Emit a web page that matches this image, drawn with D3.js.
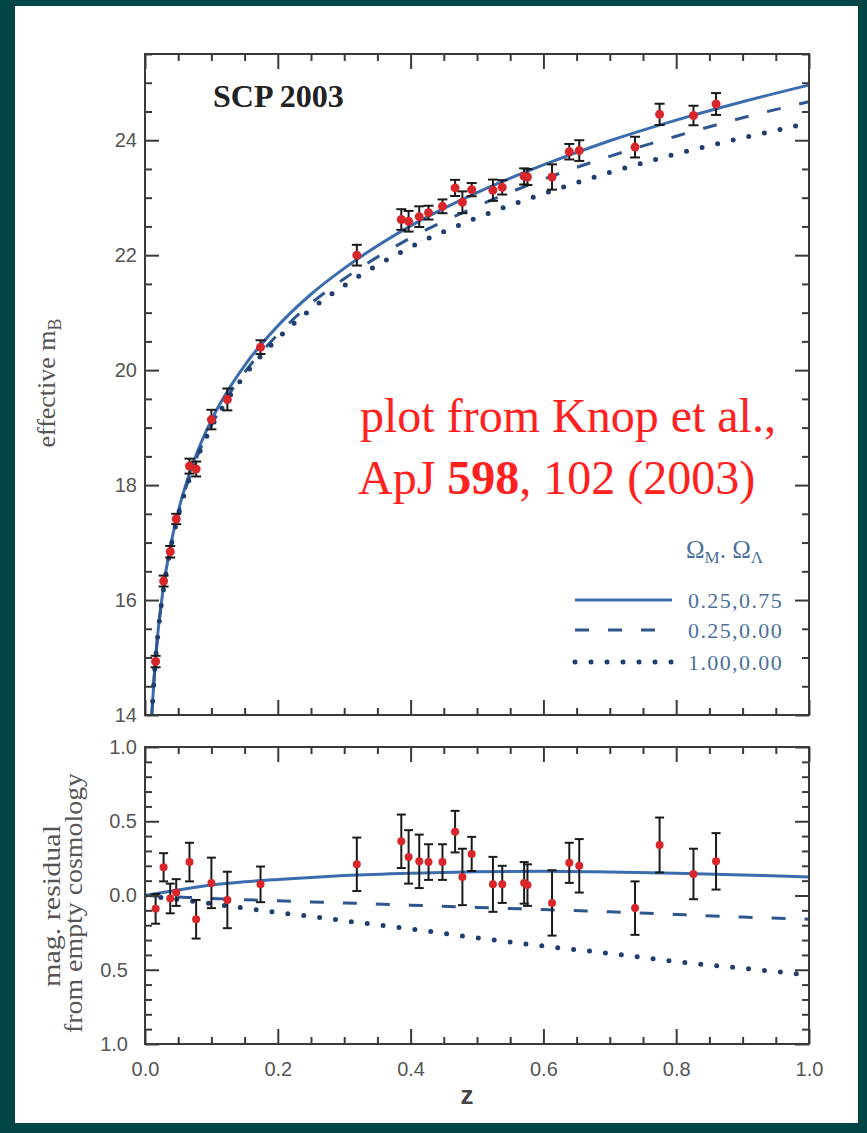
<!DOCTYPE html>
<html>
<head>
<meta charset="utf-8">
<script src="https://cdn.jsdelivr.net/npm/d3@7"></script>
<style>
  body { margin: 0; background: #004646; }
  svg { display: block; }
</style>
</head>
<body>
<svg id="chart" width="867" height="1133"></svg>
<script>
// --- data ---
const sneZ     = [0.016, 0.028, 0.038, 0.047, 0.067, 0.077, 0.100, 0.124, 0.174, 0.319,
                  0.386, 0.397, 0.413, 0.427, 0.448, 0.467, 0.478, 0.492, 0.524, 0.538,
                  0.571, 0.576, 0.613, 0.639, 0.654, 0.738, 0.775, 0.826, 0.860];
const sneMag   = [14.93, 16.33, 16.84, 17.41, 18.33, 18.28, 19.14, 19.49, 20.40, 22.00,
                  22.62, 22.59, 22.67, 22.74, 22.85, 23.17, 22.92, 23.14, 23.13, 23.18,
                  23.37, 23.36, 23.36, 23.80, 23.82, 23.88, 24.45, 24.43, 24.63];
const sneResid = [-0.09, 0.19, -0.02, 0.02, 0.225, -0.16, 0.085, -0.03, 0.075, 0.21,
                  0.365, 0.26, 0.23, 0.225, 0.225, 0.43, 0.125, 0.28, 0.075, 0.075,
                  0.085, 0.07, -0.05, 0.22, 0.20, -0.085, 0.34, 0.145, 0.23];
const sneErr   = [0.10, 0.095, 0.10, 0.09, 0.13, 0.13, 0.17, 0.19, 0.12, 0.18,
                  0.18, 0.18, 0.18, 0.12, 0.12, 0.14, 0.19, 0.115, 0.185, 0.125,
                  0.14, 0.14, 0.22, 0.135, 0.18, 0.18, 0.185, 0.17, 0.19];

// model curves (sampled from the plot)
const modelZ    = [0.01, 0.015, 0.02, 0.03, 0.04, 0.05, 0.075, 0.1, 0.125, 0.15,
                   0.2, 0.25, 0.3, 0.4, 0.5, 0.6, 0.7, 0.8, 0.9, 1.0];
const solidMag  = [13.97, 14.86, 15.50, 16.39, 17.03, 17.54, 18.46, 19.13, 19.65, 20.08,
                   20.77, 21.32, 21.77, 22.51, 23.09, 23.57, 23.99, 24.35, 24.67, 24.96];
const dashedMag = [13.96, 14.85, 15.48, 16.36, 16.99, 17.49, 18.39, 19.04, 19.55, 19.96,
                   20.62, 21.16, 21.59, 22.30, 22.85, 23.32, 23.72, 24.07, 24.39, 24.67];
const dottedMag = [13.96, 14.84, 15.47, 16.35, 16.98, 17.47, 18.36, 19.01, 19.50, 19.91,
                   20.55, 21.06, 21.47, 22.14, 22.65, 23.07, 23.44, 23.76, 24.04, 24.30];

const residZ      = [0, 0.02, 0.05, 0.1, 0.15, 0.2, 0.25, 0.3, 0.4, 0.5, 0.6, 0.7, 0.8, 0.9, 1.0];
const solidResid  = [0, 0.015, 0.037, 0.07, 0.092, 0.108, 0.122, 0.134, 0.15, 0.16, 0.163, 0.158, 0.15, 0.138, 0.125];
const dashedResid = [0, -0.004, -0.01, -0.02, -0.028, -0.036, -0.043, -0.05, -0.065, -0.08, -0.095, -0.11, -0.128, -0.145, -0.16];
const dottedResid = [0, -0.011, -0.027, -0.055, -0.085, -0.115, -0.14, -0.17, -0.225, -0.285, -0.34, -0.39, -0.445, -0.49, -0.535];

const legendLabels = ['0.25,0.75', '0.25,0.00', '1.00,0.00'];
const zTicks   = [0, 0.2, 0.4, 0.6, 0.8, 1.0];
const magTicks = [14, 16, 18, 20, 22, 24];
const resTicks = [1.0, 0.5, 0.0, -0.5, -1.0];

// --- layout ---
const svg = d3.select('#chart');
svg.append('rect').attr('x', 15).attr('y', 6).attr('width', 843).attr('height', 1117).attr('fill', '#fff');

const left = 145, right = 809;
const top1 = 54, bot1 = 715;
const top2 = 747, bot2 = 1044;

const x = d3.scaleLinear().domain([0, 1]).range([left, right]);
const yMag = d3.scaleLinear().domain([14, 25.5]).range([bot1, top1]);
const yRes = d3.scaleLinear().domain([-1, 1]).range([bot2, top2]);

const frameColor = '#3a3a3a';
const tickFont = '"Liberation Sans", Arial, sans-serif';
const serif = '"Liberation Serif", "Times New Roman", serif';

const styles = [
  { color: '#3a6cae', width: 3, dash: null, cap: 'butt' },
  { color: '#2e578f', width: 3, dash: '14,19', cap: 'butt' },
  { color: '#1f3d70', width: 5, dash: '0,16', cap: 'round' }
];

const zMinor = d3.range(0, 1.0001, 0.05).filter(v => Math.abs(v * 5 - Math.round(v * 5)) > 1e-6);
const magMinor = d3.range(14, 25.51, 0.5).filter(v => v % 2 !== 0);
const resMinor = d3.range(-1, 1.0001, 0.1).filter(v => Math.abs(v * 2 - Math.round(v * 2)) > 1e-6);

function styleAxis(g) {
  g.select('.domain').remove();
  g.selectAll('line').attr('stroke', frameColor).attr('stroke-width', 2);
  g.attr('font-family', tickFont).attr('font-size', 20);
  g.selectAll('text').attr('fill', '#555');
}

function drawFrame(yScale, yTop, yBot, majorY, minorY, yFmt, xLabels) {
  // left axis, labelled
  const yAxisG = svg.append('g').attr('transform', `translate(${left},0)`);
  yAxisG.call(d3.axisLeft(yScale).tickValues(majorY).tickSizeInner(-14).tickSizeOuter(0).tickPadding(8).tickFormat(yFmt));
  styleAxis(yAxisG);
  // negative residual labels lost their minus sign in the original but keep its room
  yAxisG.selectAll('.tick').each(function (d) {
    if (+d < 0) d3.select(this).select('text').attr('x', -17);
  });

  svg.append('g').attr('transform', `translate(${left},0)`)
    .call(d3.axisLeft(yScale).tickValues(minorY).tickSizeInner(-7).tickSizeOuter(0).tickFormat(''))
    .call(styleAxis);
  // right axis
  svg.append('g').attr('transform', `translate(${right},0)`)
    .call(d3.axisRight(yScale).tickValues(majorY).tickSizeInner(-14).tickSizeOuter(0).tickFormat(''))
    .call(styleAxis);
  svg.append('g').attr('transform', `translate(${right},0)`)
    .call(d3.axisRight(yScale).tickValues(minorY).tickSizeInner(-7).tickSizeOuter(0).tickFormat(''))
    .call(styleAxis);
  // top and bottom axes
  svg.append('g').attr('transform', `translate(0,${yTop})`)
    .call(d3.axisTop(x).tickValues(zTicks).tickSizeInner(-15).tickSizeOuter(0).tickFormat(''))
    .call(styleAxis);
  svg.append('g').attr('transform', `translate(0,${yTop})`)
    .call(d3.axisTop(x).tickValues(zMinor).tickSizeInner(-7).tickSizeOuter(0).tickFormat(''))
    .call(styleAxis);
  svg.append('g').attr('transform', `translate(0,${yBot})`)
    .call(d3.axisBottom(x).tickValues(zTicks).tickSizeInner(-15).tickSizeOuter(0).tickPadding(18)
      .tickFormat(xLabels ? d3.format('.1f') : ''))
    .call(styleAxis);
  svg.append('g').attr('transform', `translate(0,${yBot})`)
    .call(d3.axisBottom(x).tickValues(zMinor).tickSizeInner(-7).tickSizeOuter(0).tickFormat(''))
    .call(styleAxis);

  svg.append('rect')
    .attr('x', left).attr('y', yTop).attr('width', right - left).attr('height', yBot - yTop)
    .attr('fill', 'none').attr('stroke', frameColor).attr('stroke-width', 2);
}

// clip paths
const defs = svg.append('defs');
defs.append('clipPath').attr('id', 'clipTop').append('rect')
  .attr('x', left).attr('y', top1).attr('width', right - left).attr('height', bot1 - top1);
defs.append('clipPath').attr('id', 'clipBot').append('rect')
  .attr('x', left).attr('y', top2).attr('width', right - left).attr('height', bot2 - top2);

function drawPoints(g, yScale, vals, r, cap) {
  const pts = sneZ.map((z, i) => ({ z, v: vals[i], e: sneErr[i] }));
  const eb = g.append('g').attr('stroke', '#1a1a1a').attr('stroke-width', 2);
  pts.forEach(p => {
    const cx = x(p.z), y1 = yScale(p.v - p.e), y2 = yScale(p.v + p.e);
    eb.append('line').attr('x1', cx).attr('x2', cx).attr('y1', y1).attr('y2', y2);
    eb.append('line').attr('x1', cx - cap).attr('x2', cx + cap).attr('y1', y1).attr('y2', y1);
    eb.append('line').attr('x1', cx - cap).attr('x2', cx + cap).attr('y1', y2).attr('y2', y2);
  });
  g.append('g').selectAll('circle').data(pts).join('circle')
    .attr('cx', d => x(d.z)).attr('cy', d => yScale(d.v)).attr('r', r)
    .attr('fill', '#d8262b');
}

// --- top panel ---
const topG = svg.append('g').attr('clip-path', 'url(#clipTop)');
[solidMag, dashedMag, dottedMag].forEach((series, k) => {
  const line = d3.line().x((d, i) => x(modelZ[i])).y(d => yMag(d)).curve(d3.curveMonotoneX);
  topG.append('path').attr('d', line(series))
    .attr('fill', 'none').attr('stroke', styles[k].color).attr('stroke-width', styles[k].width)
    .attr('stroke-dasharray', styles[k].dash).attr('stroke-linecap', styles[k].cap);
});
drawPoints(topG, yMag, sneMag, 4.5, 5);

drawFrame(yMag, top1, bot1, magTicks, magMinor, d3.format('d'), false);

// --- bottom panel ---
const botG = svg.append('g').attr('clip-path', 'url(#clipBot)');
[solidResid, dashedResid, dottedResid].forEach((series, k) => {
  const line = d3.line().x((d, i) => x(residZ[i])).y(d => yRes(d)).curve(d3.curveMonotoneX);
  botG.append('path').attr('d', line(series))
    .attr('fill', 'none').attr('stroke', styles[k].color).attr('stroke-width', styles[k].width)
    .attr('stroke-dasharray', styles[k].dash).attr('stroke-linecap', styles[k].cap);
});
drawPoints(botG, yRes, sneResid, 4, 4.5);

drawFrame(yRes, top2, bot2, resTicks, resMinor, d => d3.format('.1f')(Math.abs(d)), true);

// --- titles ---
svg.append('text').attr('x', 213).attr('y', 107)
  .attr('font-family', serif).attr('font-weight', 'bold').attr('font-size', 32).attr('fill', '#222')
  .text('SCP 2003');

const yt = svg.append('text')
  .attr('transform', 'translate(55,383) rotate(-90)')
  .attr('text-anchor', 'middle')
  .attr('font-family', serif).attr('font-size', 26).attr('fill', '#555');
yt.append('tspan').text('effective m');
yt.append('tspan').attr('font-size', 18).attr('dy', 6).text('B');

svg.append('text').attr('transform', 'translate(60,906) rotate(-90)')
  .attr('text-anchor', 'middle').attr('font-family', serif).attr('font-size', 25).attr('fill', '#555')
  .attr('textLength', 162).attr('lengthAdjust', 'spacingAndGlyphs')
  .text('mag. residual');
svg.append('text').attr('transform', 'translate(82,903) rotate(-90)')
  .attr('text-anchor', 'middle').attr('font-family', serif).attr('font-size', 25).attr('fill', '#555')
  .attr('textLength', 260).attr('lengthAdjust', 'spacingAndGlyphs')
  .text('from empty cosmology');

svg.append('text').attr('x', 467).attr('y', 1104).attr('text-anchor', 'middle')
  .attr('font-family', tickFont).attr('font-weight', 'bold').attr('font-size', 26).attr('fill', '#444')
  .text('z');

// --- legend ---
const legendColor = '#4a6f9c';
const lh = svg.append('text').attr('x', 686).attr('y', 558)
  .attr('font-family', serif).attr('font-size', 25).attr('fill', legendColor);
lh.append('tspan').text('Ω');
lh.append('tspan').attr('font-size', 17).attr('dy', 5).text('M');
lh.append('tspan').attr('dy', -5).text('. Ω');
lh.append('tspan').attr('font-size', 17).attr('dy', 5).text('Λ');

const legendY = [600, 630, 662];
legendLabels.forEach((label, k) => {
  svg.append('line').attr('x1', 575).attr('x2', 672).attr('y1', legendY[k]).attr('y2', legendY[k])
    .attr('stroke', styles[k].color).attr('stroke-width', styles[k].width)
    .attr('stroke-dasharray', styles[k].dash).attr('stroke-linecap', styles[k].cap);
  svg.append('text').attr('x', 688).attr('y', legendY[k] + 8)
    .attr('font-family', serif).attr('font-size', 22).attr('fill', legendColor)
    .attr('letter-spacing', 1.4)
    .text(label);
});

// --- red annotation ---
svg.append('text').attr('x', 360).attr('y', 432)
  .attr('font-family', serif).attr('font-size', 48).attr('fill', '#ff2020')
  .text('plot from Knop et al.,');
const ref = svg.append('text').attr('x', 358).attr('y', 494)
  .attr('font-family', serif).attr('font-size', 48).attr('fill', '#ff2020');
ref.append('tspan').text('ApJ ');
ref.append('tspan').attr('font-weight', 'bold').text('598');
ref.append('tspan').text(', 102 (2003)');
</script>
</body>
</html>
